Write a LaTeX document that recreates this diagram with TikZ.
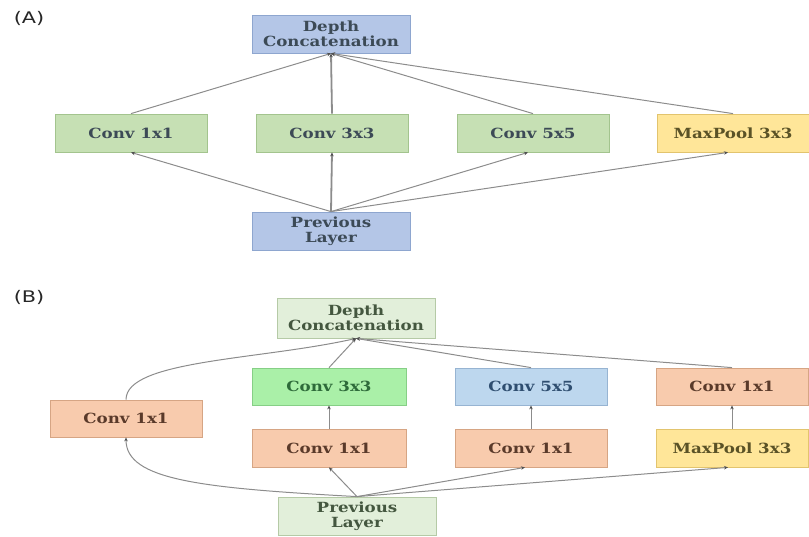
\documentclass[tikz,border=0pt]{standalone}
\usepackage{fontspec}
\newfontfamily\boxfont{DejaVu Serif}[FakeStretch=1.19]
\newfontfamily\labfont{DejaVu Sans}[FakeStretch=1.3]
\usetikzlibrary{arrows.meta}
\definecolor{ablue}{HTML}{B4C6E7}
\definecolor{ablueE}{HTML}{8EA6CF}
\definecolor{agreen}{HTML}{C6E0B4}
\definecolor{agreenE}{HTML}{A3C48E}
\definecolor{ayellow}{HTML}{FFE699}
\definecolor{ayellowE}{HTML}{E2C46E}
\definecolor{bpale}{HTML}{E2EFDA}
\definecolor{bpaleE}{HTML}{B5CAA6}
\definecolor{bbright}{HTML}{AAF0A8}
\definecolor{bbrightE}{HTML}{86CF86}
\definecolor{borange}{HTML}{F8CBAD}
\definecolor{borangeE}{HTML}{D6A584}
\definecolor{bblue}{HTML}{BDD7EE}
\definecolor{bblueE}{HTML}{97B4D2}
\definecolor{tslate}{HTML}{3C4A56}
\definecolor{tgreen}{HTML}{2E6B3A}
\definecolor{tblue}{HTML}{2F4E70}
\definecolor{tbrown}{HTML}{5A3A2A}
\definecolor{tolive}{HTML}{5A5226}
\definecolor{tpale}{HTML}{44573F}
\definecolor{conn}{HTML}{8C8C8C}
\definecolor{tipc}{HTML}{505050}
\tikzset{
  box/.style={rectangle, inner sep=0pt, align=center, line width=0.8pt,
    font=\boxfont\bfseries\fontsize{14}{15}\selectfont},
  wide/.style={box, minimum width=158pt, minimum height=38pt},
  narrow/.style={box, minimum width=152pt, minimum height=38pt},
  fblue/.style={fill=ablue, draw=ablueE, text=tslate},
  fgreen/.style={fill=agreen, draw=agreenE, text=tslate},
  fyellow/.style={fill=ayellow, draw=ayellowE, text=tolive},
  fpale/.style={fill=bpale, draw=bpaleE, text=tpale},
  fbright/.style={fill=bbright, draw=bbrightE, text=tgreen},
  forange/.style={fill=borange, draw=borangeE, text=tbrown},
  fbblue/.style={fill=bblue, draw=bblueE, text=tblue},
  link/.style={draw=conn, line width=1pt, -{Stealth[length=4pt,width=3.5pt,color=tipc]}},
  thick link/.style={link, line width=1.8pt},
  panel/.style={font=\labfont\fontsize{16}{16}\selectfont, text=black!85, inner sep=0pt}
}
\begin{document}
\begin{tikzpicture}[x=1pt,y=-1pt]
\useasboundingbox (0,0) rectangle (809,536);
% ---------- (A) ----------
\node[panel] (la) at (29,18) {(A)};
\node[wide, fblue] (adc) at (331,34) {Depth\\Concatenation};
\node[narrow, fgreen] (a1) at (131,133) {Conv 1x1};
\node[narrow, fgreen] (a3) at (332,133) {Conv 3x3};
\node[narrow, fgreen] (a5) at (533,133) {Conv 5x5};
\node[narrow, fyellow] (amp) at (733,133) {MaxPool 3x3};
\node[wide, fblue] (apl) at (331,231) {Previous\\Layer};
\draw[link] (apl.north) -- (a1.south);
\draw[thick link] (apl.north) -- (a3.south);
\draw[link] (apl.north) -- ([xshift=-5pt]a5.south);
\draw[link] (apl.north) -- ([xshift=-5pt]amp.south);
\draw[link] (a1.north) -- (adc.south);
\draw[thick link] (a3.north) -- (adc.south);
\draw[link] (a5.north) -- (adc.south);
\draw[link] (amp.north) -- (adc.south);
% ---------- (B) ----------
\node[panel] (lb) at (29,297) {(B)};
\node[box, fpale, minimum width=158pt, minimum height=40pt] (bdc) at (356,318) {Depth\\Concatenation};
\node[box, fbright, minimum width=154pt, minimum height=37pt] (b3) at (329,386.5) {Conv 3x3};
\node[box, fbblue, minimum width=152pt, minimum height=37pt] (b5) at (531,386.5) {Conv 5x5};
\node[box, forange, minimum width=152pt, minimum height=37pt] (bp1) at (732,386.5) {Conv 1x1};
\node[box, forange, minimum width=152pt, minimum height=37pt] (bl1) at (126,418.5) {Conv 1x1};
\node[box, forange, minimum width=154pt, minimum height=38pt] (b31) at (329,448) {Conv 1x1};
\node[box, forange, minimum width=152pt, minimum height=38pt] (b51) at (531,448) {Conv 1x1};
\node[box, fyellow, minimum width=152pt, minimum height=38pt] (bmp) at (732,448) {MaxPool 3x3};
\node[box, fpale, minimum width=158pt, minimum height=38pt] (bpl) at (357,516) {Previous\\Layer};
% from previous layer
\draw[link] (bpl.north) .. controls (200,488) and (126,480) .. (bl1.south);
\draw[link] (bpl.north) -- (b31.south);
\draw[link] (bpl.north) -- ([xshift=-6pt]b51.south);
\draw[link] (bpl.north) -- ([xshift=-4pt]bmp.south);
% inner vertical links
\draw[link] (b31.north) -- (b3.south);
\draw[link] (b51.north) -- (b5.south);
\draw[link] (bmp.north) -- (bp1.south);
% into depth concatenation
\draw[link] (bl1.north) .. controls (126,360) and (260,360) .. (bdc.south);
\draw[link] (b3.north) -- (bdc.south);
\draw[link] (b5.north) -- (bdc.south);
\draw[link] (bp1.north) -- (bdc.south);
\end{tikzpicture}
\end{document}
